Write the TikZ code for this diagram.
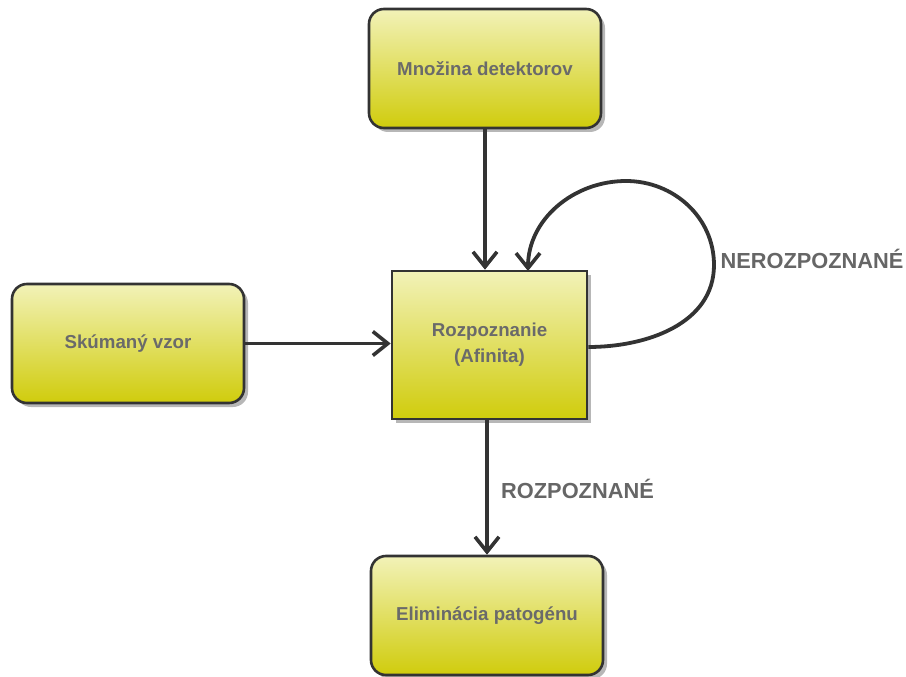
\documentclass[tikz,border=0pt]{standalone}
\usepackage{fontspec}
\setmainfont{Liberation Sans}
\usetikzlibrary{arrows.meta,shadows}
\definecolor{edgegray}{HTML}{333333}
\definecolor{textgray}{HTML}{6A6A6A}
\definecolor{labelgray}{HTML}{666666}
\definecolor{boxtop}{HTML}{F2F2B8}
\definecolor{boxbottom}{HTML}{D0CC0C}
\begin{document}
\begin{tikzpicture}[x=1pt,y=-1pt,
  box/.style={draw=edgegray, line width=2.6pt, top color=boxtop, bottom color=boxbottom,
    drop shadow={shadow xshift=4pt, shadow yshift=-4pt, fill=black!40, opacity=0.7},
    font=\bfseries\fontsize{18.7}{22}\selectfont, text=textgray, align=center, inner sep=0pt},
  roundbox/.style={box, rounded corners=15pt, minimum width=232pt, minimum height=119pt},
  squarebox/.style={box, minimum width=195pt, minimum height=148pt},
  flow/.style={draw=edgegray, line width=3.8pt, -{Straight Barb[length=15pt, width=24pt, line width=3.6pt]}},
  edgelabel/.style={font=\bfseries\fontsize{21.8}{26}\selectfont, text=labelgray}]
\useasboundingbox (0,0) rectangle (906,677);

\node[roundbox] (det) at (485,68.5) {Množina detektorov};
\node[roundbox] (vzor) at (128,343.5) {Skúmaný vzor};
\node[squarebox] (rozp) at (489.5,345) {Rozpoznanie\\[4pt](Afinita)};
\node[roundbox] (elim) at (487,615.5) {Eliminácia patogénu};

% entry point of the feedback loop on the top edge
\coordinate (loopin) at (528,271);
\coordinate (loopright) at (714,265);
\coordinate (looptop) at (626,181);

\draw[flow] (det.south) -- (det.south |- rozp.north);
\draw[flow] (vzor.east) -- (vzor.east -| rozp.west);
\draw[flow] (elim.north |- rozp.south) -- (elim.north);
\draw[flow] (rozp.east |- 0,347) to[out=0,in=-90] (loopright)
  to[out=90,in=0] (looptop) to[out=180,in=90] (loopin);

\node[edgelabel] (lrec) at (577.5,489) {ROZPOZNANÉ};
\node[edgelabel] (lnrec) at (812,259) {NEROZPOZNANÉ};
\end{tikzpicture}
\end{document}
